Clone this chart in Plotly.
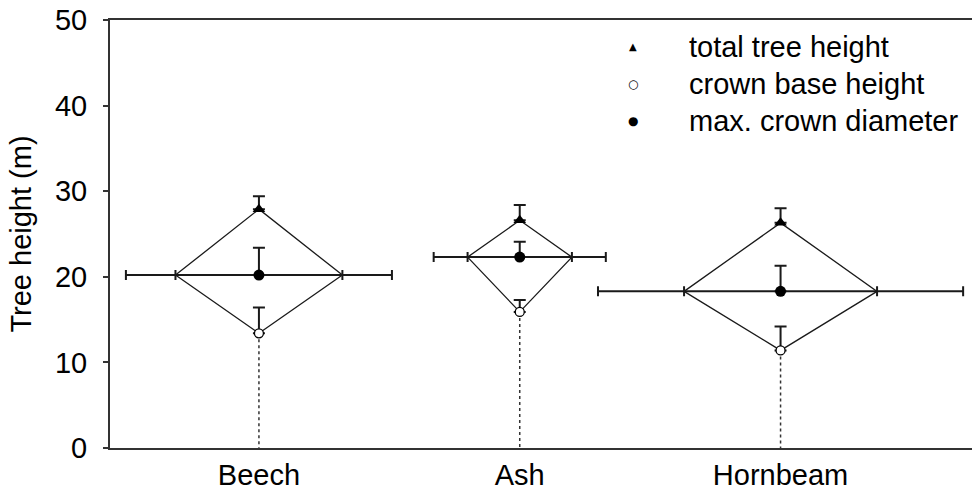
import plotly.graph_objects as go

# ---------------- data ----------------
species = ["Beech", "Ash", "Hornbeam"]
total_height = [27.9, 26.6, 26.3]
total_height_sd = [1.5, 1.8, 1.7]
crown_base = [13.4, 15.9, 11.4]
crown_base_sd = [3.0, 1.4, 2.8]
max_crown_height = [20.2, 22.3, 18.3]
max_crown_height_sd = [3.2, 1.8, 3.0]
crown_radius_m = [3.2, 2.0, 3.7]
crown_radius_sd_m = [1.9, 1.3, 3.3]
y_ticks = [0, 10, 20, 30, 40, 50]

# ------------- scale/layout constants -------------
M_PER_CAT = 0.1          # category-axis units per metre of crown radius
FONT = "Liberation Sans, Arial, sans-serif"
FS = 29
LINE = "#1a1a1a"
W, H = 972, 491
ML, MR, MT, MB = 110, 0, 20, 43

xpos = list(range(len(species)))
r = [v * M_PER_CAT for v in crown_radius_m]
rsd = [v * M_PER_CAT for v in crown_radius_sd_m]

fig = go.Figure()

# dotted stems from crown base to ground
sx, sy = [], []
for xi, b in zip(xpos, crown_base):
    sx += [xi, xi, None]
    sy += [b, 0, None]
fig.add_trace(go.Scatter(x=sx, y=sy, mode="lines",
                         line=dict(color="#333333", width=1.5, dash="dot"),
                         hoverinfo="skip", showlegend=False))

# diamonds
dx, dy = [], []
for xi, ri, t, b, m in zip(xpos, r, total_height, crown_base, max_crown_height):
    dx += [xi - ri, xi, xi + ri, xi, xi - ri, None]
    dy += [m, t, m, b, m, None]
fig.add_trace(go.Scatter(x=dx, y=dy, mode="lines",
                         line=dict(color=LINE, width=1.3),
                         hoverinfo="skip", showlegend=False))

# horizontal max crown diameter line
hx, hy = [], []
for xi, ri, m in zip(xpos, r, max_crown_height):
    hx += [xi - ri, xi + ri, None]
    hy += [m, m, None]
fig.add_trace(go.Scatter(x=hx, y=hy, mode="lines",
                         line=dict(color=LINE, width=2),
                         hoverinfo="skip", showlegend=False))

# horizontal error bars at diamond vertices
ex, ey, eplus, eminus = [], [], [], []
for xi, ri, sdi, m in zip(xpos, r, rsd, max_crown_height):
    ex += [xi - ri, xi + ri]
    ey += [m, m]
    eplus += [0, sdi]
    eminus += [sdi, 0]
fig.add_trace(go.Scatter(x=ex, y=ey, mode="markers",
                         marker=dict(size=1, color="rgba(0,0,0,0)"),
                         error_x=dict(type="data", symmetric=False, array=eplus,
                                      arrayminus=eminus, color=LINE,
                                      thickness=2, width=5),
                         hoverinfo="skip", showlegend=False))

zeros = [0] * len(species)
# total tree height
fig.add_trace(go.Scatter(x=xpos, y=total_height, mode="markers", name="total tree height",
                         marker=dict(symbol="triangle-up", size=11, color="black"),
                         error_y=dict(type="data", symmetric=False, array=total_height_sd,
                                      arrayminus=zeros, color=LINE, thickness=2, width=6),
                         showlegend=False))
# max crown diameter
fig.add_trace(go.Scatter(x=xpos, y=max_crown_height, mode="markers", name="max. crown diameter",
                         marker=dict(symbol="circle", size=11, color="black"),
                         error_y=dict(type="data", symmetric=False, array=max_crown_height_sd,
                                      arrayminus=zeros, color=LINE, thickness=2, width=6),
                         showlegend=False))
# crown base height
fig.add_trace(go.Scatter(x=xpos, y=crown_base, mode="markers", name="crown base height",
                         marker=dict(symbol="circle", size=9, color="white",
                                     line=dict(color="black", width=1.3)),
                         error_y=dict(type="data", symmetric=False, array=crown_base_sd,
                                      arrayminus=zeros, color=LINE, thickness=2, width=6),
                         showlegend=False))

# legend drawn as annotations (positions given in page pixels)
pw, ph = W - ML - MR, H - MT - MB
def px(xp):
    return (xp - ML) / pw
def py(yp):
    return (H - MB - yp) / ph

legend_items = [("▲", 10, "total tree height", 47),
                ("○", 12, "crown base height", 84),
                ("●", 12, "max. crown diameter", 121)]
for sym, ssz, label, yy in legend_items:
    fig.add_annotation(x=px(633), y=py(yy), xref="paper", yref="paper",
                       text=sym, showarrow=False, xanchor="center", yanchor="middle",
                       font=dict(size=ssz, color="black", family="DejaVu Sans"))
    fig.add_annotation(x=px(687), y=py(yy), xref="paper", yref="paper",
                       text=label, showarrow=False, xanchor="left", yanchor="middle",
                       font=dict(size=FS, color="black", family=FONT))

fig.update_layout(
    width=W, height=H,
    margin=dict(l=ML, r=MR, t=MT, b=MB),
    plot_bgcolor="white", paper_bgcolor="white",
    font=dict(family=FONT, size=FS, color="black"),
    showlegend=False,
)
fig.update_xaxes(range=[-0.571, 2.734], tickvals=xpos, ticktext=species,
                 showgrid=False, zeroline=False, showline=True, linecolor="#333333",
                 linewidth=2, ticks="", ticklabelstandoff=0, mirror=True,
                 automargin=False, tickfont=dict(size=FS))
fig.update_yaxes(range=[0, 50], tickvals=y_ticks, showgrid=False, zeroline=False,
                 showline=True, linecolor="#333333", linewidth=2,
                 ticks="outside", ticklen=5, tickwidth=2, tickcolor="#333333",
                 ticklabelstandoff=10, ticklabeloverflow="allow",
                 tickfont=dict(size=FS), automargin=False,
                 title=dict(text="Tree height (m)", font=dict(size=FS), standoff=15))

fig.write_html("out.html", config={"displayModeBar": False},
               post_script="document.body.style.margin='0';document.body.style.padding='0';")
